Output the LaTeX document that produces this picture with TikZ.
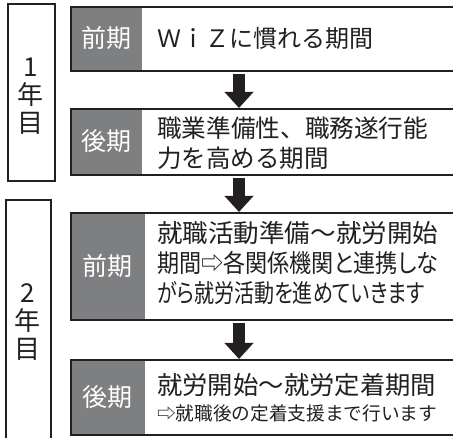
\documentclass[tikz,border=0pt]{standalone}
\usepackage{fontspec}
\usepackage{graphicx}
\newfontfamily\jp{Noto Sans CJK JP}
\newfontfamily\jpp[RawFeature=+palt]{Noto Sans CJK JP}
\newcommand{\fitline}[2]{\resizebox{#1}{\height}{#2}}
\usetikzlibrary{arrows.meta}
\definecolor{labgray}{HTML}{7E7F81}
\definecolor{ink}{HTML}{231F20}
\begin{document}
\begin{tikzpicture}[x=1pt,y=-1pt,
  tag/.style={fill=labgray, text=white, anchor=north west, inner sep=0pt, minimum width=72pt, font=\jp\fontsize{25}{25}\selectfont},
  phase/.style={draw=ink, line width=2pt, anchor=north west, inner sep=0pt, minimum width=400pt},
  yearbox/.style={draw=ink, line width=2pt, anchor=north west, inner sep=0pt},
  yeartext/.style={text=ink, align=center, inner sep=0pt, font=\jp\fontsize{26}{28}\selectfont},
  body/.style={text=ink, anchor=west, align=left, inner sep=0pt},
  bigarrow/.style={draw=ink, line width=12pt, -{Triangle[width=28pt,length=16pt]}, shorten >=0pt}
]
\useasboundingbox (0,0) rectangle (453,438);
\clip (0,0) rectangle (453,438);
\fill[white] (0,0) rectangle (453,438);

% year boxes
\node[yearbox, minimum width=47pt, minimum height=177pt] (y1) at (7,3) {};
\node[yeartext] (y1t) at (30.5,96) {1\\年\\目};
\node[yearbox, minimum width=45pt, minimum height=250pt] (y2) at (5,199) {};
\node[yeartext] (y2t) at (28,322) {2\\年\\目};

% phase A
\node[tag, minimum height=64pt] (gA) at (70,6) {前期};
\node[phase, minimum height=64pt] (bA) at (70,6) {};
\node[body, font=\jp\fontsize{24}{24}\selectfont] (tA) at (157,38) {ＷｉＺに慣れる期間};

% phase B
\node[tag, minimum height=66pt] (gB) at (70,108) {後期};
\node[phase, minimum height=66pt] (bB) at (70,108) {};
\node[body, font=\jp\fontsize{24.5}{30}\selectfont] (tB) at (157,143) {\fitline{271pt}{職業準備性、職務遂行能}\\力を高める期間};

% phase C
\node[tag, minimum width=75pt, minimum height=107pt] (gC) at (70,212) {前期};
\node[phase, minimum height=107pt] (bC) at (70,212) {};
\node[body, font=\jp\fontsize{25}{30}\selectfont] (tC) at (157,263.5) {\fitline{281pt}{就職活動準備～就労開始}\\\fitline{281pt}{\jpp 期間⇨各関係機関と連携しな}\\\fitline{267pt}{\jpp がら就労活動を進めていきます}};

% phase D
\node[tag, minimum width=75pt, minimum height=75pt] (gD) at (70,359) {後期};
\node[phase, minimum height=75pt] (bD) at (70,359) {};
\node[body, font=\jp\fontsize{25}{25}\selectfont] (tD1) at (157,385) {\fitline{279pt}{就労開始～就労定着期間}};
\node[body, font=\jp\fontsize{18.7}{18.7}\selectfont] (tD2) at (157,413) {\fitline{280pt}{⇨就職後の定着支援まで行います}};

% arrows
\coordinate (ax) at (239,0);
\draw[bigarrow] ([yshift=-2pt]bA.south -| ax) -- (bB.north -| ax);
\draw[bigarrow] ([yshift=-2pt]bB.south -| ax) -- (bC.north -| ax);
\draw[bigarrow] ([yshift=-2pt]bC.south -| ax) -- (bD.north -| ax);
\end{tikzpicture}
\end{document}
